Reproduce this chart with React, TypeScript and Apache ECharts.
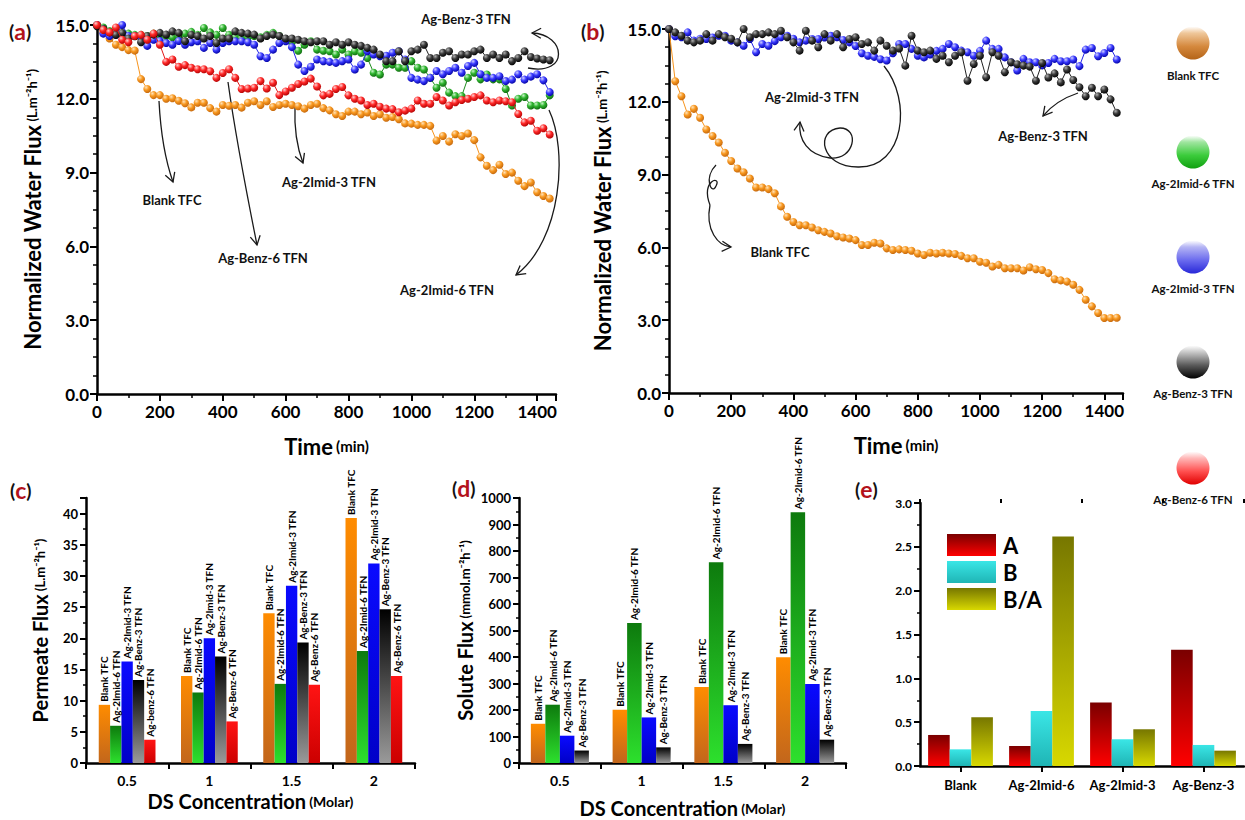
import React, { useEffect, useRef } from "react";
import * as echarts from "echarts";

// ---------- DATA ----------
const TIME = [0, 20, 40, 60, 80, 100, 120, 140, 160, 180, 200, 220, 240, 260, 280, 300, 320, 340, 360, 380, 400, 420, 440, 460, 480, 500, 520, 540, 560, 580, 600, 620, 640, 660, 680, 700, 720, 740, 760, 780, 800, 820, 840, 860, 880, 900, 920, 940, 960, 980, 1000, 1020, 1040, 1060, 1080, 1100, 1120, 1140, 1160, 1180, 1200, 1220, 1240, 1260, 1280, 1300, 1320, 1340, 1360, 1380, 1400, 1420, 1440];

// panel (a)
const BLANK_A = [15.0, 14.7, 14.45, 14.2, 14.1, 13.98, 13.96, 12.8, 12.4, 12.15,
  12.15, 12.0, 12.02, 11.92, 11.82, 11.65, 11.84, 11.84, 11.62, 11.48,
  11.75, 11.72, 11.75, 11.64, 11.84, 11.9, 11.75, 11.9, 11.67, 11.75,
  11.8, 11.75, 11.7, 11.6, 11.75, 11.8, 11.62, 11.53, 11.37, 11.3,
  11.48, 11.48, 11.37, 11.44, 11.3, 11.37, 11.23, 11.26, 11.17, 11.0,
  10.99, 10.94, 10.94, 10.9, 10.3, 10.49, 10.26, 10.56, 10.49, 10.59,
  10.32, 9.62, 9.28, 9.1, 9.32, 8.94, 9.0, 8.67, 8.45, 8.6,
  8.2, 8.05, 7.95];
const IMID6_A = [15.0, 14.9, 14.75, 14.6, 14.55, 14.65, 14.6, 14.6, 14.55, 14.65,
  14.6, 14.55, 14.5, 14.55, 14.65, 14.72, 14.6, 14.88, 14.7, 14.6,
  14.88, 14.6, 14.5, 14.45, 14.5, 14.55, 14.5, 14.6, 14.68, 14.55,
  14.4, 14.3, 13.95, 14.2, 14.34, 14.0, 13.95, 13.93, 13.8, 14.0,
  13.8, 13.93, 13.87, 13.66, 13.06, 12.99, 13.39, 13.39, 13.26, 13.26,
  13.53, 13.26, 13.19, 12.85, 12.45, 12.65, 12.25, 12.11, 12.11, 12.85,
  13.06, 12.79, 12.99, 12.79, 12.79, 12.4, 11.73, 12.0, 12.07, 11.73,
  11.73, 11.75, 12.14];
const IMID3_A = [15.0, 14.65, 14.55, 14.6, 15.0, 14.55, 14.55, 14.5, 14.15, 14.4,
  14.35, 14.27, 14.2, 14.35, 14.2, 14.3, 14.34, 14.07, 14.27, 14.0,
  14.27, 14.34, 14.34, 14.34, 14.3, 14.2, 13.73, 13.66, 14.0, 14.27,
  14.34, 14.1, 13.39, 13.13, 13.3, 13.6, 13.53, 13.5, 13.46, 13.53,
  13.6, 13.19, 13.39, 13.93, 13.8, 13.73, 13.75, 13.87, 13.93, 13.6,
  12.85, 12.78, 12.72, 12.85, 13.13, 13.0, 13.13, 13.26, 13.06, 13.33,
  13.46, 13.0, 12.85, 12.85, 12.92, 12.72, 12.78, 13.0, 12.78, 12.9,
  13.0, 12.75, 12.27];
const BENZ3_A = [14.95, 14.85, 14.7, 14.6, 14.68, 14.45, 14.54, 14.3, 14.55, 14.61,
  14.68, 14.61, 14.74, 14.68, 14.34, 14.6, 14.55, 14.45, 14.55, 14.27,
  14.45, 14.45, 14.74, 14.68, 14.65, 14.61, 14.45, 14.55, 14.61, 14.55,
  14.45, 14.45, 14.4, 14.34, 14.3, 14.34, 14.34, 14.2, 14.3, 14.2,
  14.3, 14.2, 14.15, 14.07, 14.0, 13.8, 13.53, 13.53, 13.93, 13.53,
  13.93, 14.0, 14.2, 13.66, 13.66, 13.87, 13.93, 13.66, 13.8, 13.8,
  13.93, 14.0, 13.66, 13.8, 13.66, 13.8, 13.53, 13.66, 13.93, 13.7,
  13.64, 13.6, 13.57];
const BENZ6_A = [15.0, 14.8, 14.7, 14.9, 14.4, 14.3, 14.55, 14.6, 14.4, 14.65,
  14.2, 13.5, 13.6, 13.3, 13.37, 13.26, 13.2, 13.2, 13.12, 12.85,
  13.05, 13.2, 12.85, 12.4, 12.42, 12.45, 12.72, 12.42, 12.65, 12.15,
  12.3, 12.45, 12.6, 12.7, 12.82, 12.5, 12.14, 12.2, 12.4, 12.48,
  12.14, 12.0, 11.93, 11.75, 11.8, 11.68, 11.6, 11.58, 11.45, 11.52,
  11.6, 11.93, 11.8, 11.8, 12.07, 11.93, 11.73, 11.86, 11.95, 12.0,
  12.07, 12.14, 11.93, 11.86, 11.93, 11.9, 11.86, 11.38, 11.04, 11.11,
  10.7, 10.8, 10.55];

// panel (b)
const BLANK_B = [15.0, 12.85, 12.23, 11.48, 11.71, 11.34, 10.86, 10.59, 10.32, 9.9,
  9.56, 9.25, 9.1, 8.84, 8.47, 8.47, 8.4, 8.23, 7.69, 7.26,
  7.05, 6.91, 6.91, 6.82, 6.71, 6.64, 6.57, 6.46, 6.41, 6.37,
  6.3, 6.1, 6.1, 6.19, 6.16, 5.96, 5.89, 5.92, 5.89, 5.86,
  5.75, 5.69, 5.78, 5.75, 5.78, 5.75, 5.73, 5.65, 5.55, 5.55,
  5.41, 5.37, 5.21, 5.28, 5.14, 5.14, 5.14, 5.05, 5.18, 5.1,
  5.07, 4.94, 4.69, 4.64, 4.59, 4.46, 4.25, 3.84, 3.57, 3.3,
  3.09, 3.09, 3.1];
const IMID3_B = [15.0, 14.7, 14.66, 14.86, 14.52, 14.6, 14.59, 14.65, 14.72, 14.72,
  14.52, 14.45, 14.31, 14.59, 14.04, 14.38, 14.31, 14.5, 14.66, 14.72,
  14.6, 14.45, 14.52, 14.59, 14.59, 14.65, 14.72, 14.66, 14.55, 14.45,
  14.3, 14.0, 13.9, 13.85, 13.75, 13.7, 14.0, 14.38, 14.38, 14.18,
  13.9, 13.83, 13.95, 14.1, 14.18, 14.38, 14.25, 14.11, 14.04, 13.9,
  14.1, 14.52, 14.18, 14.18, 13.83, 13.63, 13.29, 13.77, 13.63, 13.63,
  13.5, 13.6, 13.77, 13.67, 13.67, 13.74, 13.47, 14.15, 14.22, 13.88,
  14.01, 14.22, 13.74];
const BENZ3_B = [15.0, 14.86, 14.72, 14.52, 14.45, 14.52, 14.79, 14.52, 14.79, 14.66,
  14.6, 14.45, 15.0, 14.66, 14.79, 14.79, 14.86, 14.79, 14.93, 14.66,
  14.45, 14.11, 14.93, 14.52, 14.25, 14.79, 14.52, 14.79, 14.25, 14.59,
  14.66, 14.38, 14.45, 14.11, 14.52, 14.31, 14.11, 14.2, 13.49, 14.72,
  14.11, 14.04, 14.11, 13.77, 13.9, 13.63, 13.9, 14.04, 12.87, 13.56,
  13.9, 13.01, 14.04, 13.9, 13.22, 13.63, 13.55, 13.49, 13.45, 12.87,
  13.6, 13.0, 13.17, 12.8, 13.33, 12.9, 12.6, 12.23, 12.58, 12.23,
  12.51, 12.1, 11.55];

// panel (c) permeate flux
const CONC = ["0.5", "1", "1.5", "2"];
const PERM_BLANK = [9.33, 13.97, 24.0, 39.3];
const PERM_IMID6 = [5.97, 11.31, 12.69, 17.97];
const PERM_IMID3 = [16.27, 20.0, 28.43, 32.0];
const PERM_BENZ3 = [13.33, 17.07, 19.31, 24.64];
const PERM_BENZ6 = [3.73, 6.67, 12.53, 13.97];
const BENZ6_TAGS = ["Ag-benz-6 TFN", "Ag-Benz-6 TFN", "Ag-Benz-6 TFN", "Ag-Benz-6 TFN"];

// panel (d) solute flux
const SOL_BLANK = [148, 201, 287, 399];
const SOL_IMID6 = [220, 528, 758, 946];
const SOL_IMID3 = [103, 172, 218, 298];
const SOL_BENZ3 = [47, 59, 72, 88];

// panel (e)
const MEMB = ["Blank", "Ag-2Imid-6", "Ag-2Imid-3", "Ag-Benz-3"];
const PARAM_A = [0.354, 0.228, 0.723, 1.325];
const PARAM_B = [0.19, 0.628, 0.305, 0.24];
const PARAM_BA = [0.556, 2.619, 0.419, 0.175];

// ---------- STYLE ----------
const F = "Lato, 'DejaVu Sans', sans-serif";
const BLACK = "#000";

const ball = (hi: string, c: string, d: string) => ({
  type: "radial", x: 0.35, y: 0.3, r: 0.75,
  colorStops: [{ offset: 0, color: hi }, { offset: 0.45, color: c }, { offset: 1, color: d }],
});
const vgrad = (top: string, bottom: string) => ({
  type: "linear", x: 0, y: 0, x2: 0, y2: 1,
  colorStops: [{ offset: 0, color: top }, { offset: 1, color: bottom }],
});

const COL = {
  orange: { ball: ball("#ffe2b8", "#f8981f", "#c2650c"), line: "#f7941d" },
  green: { ball: ball("#c8f5c8", "#2fb52f", "#0f660f"), line: "#1e8c1e" },
  blue: { ball: ball("#d0d0ff", "#3a3aff", "#0000a0"), line: "#2424e6" },
  black: { ball: ball("#b0b0b0", "#3a3a3a", "#000000"), line: "#222" },
  red: { ball: ball("#ffd0d0", "#ff2a2a", "#b00000"), line: "#e31818" },
};

function lineSeries(name: string, vals: number[], c: any, gi: number, z: number) {
  return {
    type: "line", name, xAxisIndex: gi, yAxisIndex: gi, z,
    data: TIME.map((t, i) => [t, vals[i]]),
    symbol: "circle", symbolSize: 8, showSymbol: true, clip: false,
    lineStyle: { color: c.line, width: 1 },
    itemStyle: { color: c.ball, borderWidth: 0 },
    emphasis: { disabled: true },
  };
}

const barLabel = (fmt: any) => ({
  show: true, position: "top", rotate: 90, align: "left", verticalAlign: "middle",
  distance: 3, fontSize: 10, fontWeight: "bold", fontFamily: F, color: BLACK, formatter: fmt,
});

function barSeries(name: string, vals: number[], color: any, gi: number, tag: any) {
  return {
    type: "bar", name, xAxisIndex: gi, yAxisIndex: gi, data: vals,
    itemStyle: { color }, label: barLabel(tag), emphasis: { disabled: true },
  };
}

const axLine = { show: true, lineStyle: { color: BLACK, width: 2.5 } };
const tick = (len: number) => ({ show: true, length: len, lineStyle: { color: BLACK, width: 2 } });
const minor = (n: number, len: number) => ({ show: true, splitNumber: n, length: len, lineStyle: { color: BLACK, width: 1.5 } });
const lbl = (size: number, extra: any = {}) => ({ fontSize: size, fontWeight: "bold", fontFamily: F, color: BLACK, ...extra });
const richName = (big: number, small: number) => ({
  rich: {
    b: { fontSize: big, fontWeight: "bold", fontFamily: F, color: BLACK },
    s: { fontSize: small, fontWeight: "bold", fontFamily: F, color: BLACK },
  },
});

// arrows
function curve(p: number[], head = true) {
  const [x1, y1, c1x, c1y, c2x, c2y, x2, y2] = p;
  const st = { stroke: "#1a1a1a", lineWidth: 1.3, fill: "none" };
  const out: any[] = [{ type: "bezierCurve", silent: true, shape: { x1, y1, cpx1: c1x, cpy1: c1y, cpx2: c2x, cpy2: c2y, x2, y2 }, style: st }];
  if (head) {
    let dx = x2 - c2x, dy = y2 - c2y;
    const L = Math.hypot(dx, dy) || 1; dx /= L; dy /= L;
    const bx = x2 - dx * 9, by = y2 - dy * 9, px = -dy, py = dx;
    out.push({ type: "polyline", silent: true, shape: { points: [[bx + px * 5, by + py * 5], [x2, y2], [bx - px * 5, by - py * 5]] }, style: st });
  }
  return out;
}
const note = (text: string, x: number, y: number, size = 13) => ({
  type: "text", x, y, silent: true,
  style: { text, fontSize: size, fontWeight: "bold", fontFamily: F, fill: "#111", align: "center", verticalAlign: "middle" },
});
const panelTag = (ch: string, x: number, y: number) => ({
  type: "text", x, y, silent: true,
  style: {
    text: `{p|(}{l|${ch}}{p|)}`, verticalAlign: "middle",
    rich: {
      p: { fontSize: 19, fontWeight: "bold", fontFamily: F, fill: "#111" },
      l: { fontSize: 23, fontWeight: "bold", fontFamily: F, fill: "#b3121b" },
    },
  },
});
const legendBall = (cy: number, stops: string[], text: string, ty: number) => [
  {
    type: "circle", silent: true, shape: { cx: 1193, cy, r: 16.5 },
    style: {
      fill: { type: "linear", x: 0, y: 0, x2: 0, y2: 1, colorStops: [{ offset: 0, color: "#ffffff" }, { offset: 0.2, color: stops[0] }, { offset: 0.6, color: stops[1] }, { offset: 1, color: stops[2] }] },
    },
  },
  note(text, 1193, ty, 11.5),
];

export default function App() {
  const ref = useRef<HTMLDivElement>(null);
  useEffect(() => {
    if (!ref.current) return;
    const chart = echarts.init(ref.current, null, { renderer: "svg" });

    const timeX = (gi: number) => ({
      gridIndex: gi, type: "value", min: 0, max: 1460, interval: 200,
      axisLine: axLine, axisTick: tick(7), minorTick: minor(2, 4), splitLine: { show: false },
      axisLabel: lbl(17, { margin: 9, formatter: (v: number) => (v % 200 === 0 ? String(v) : "") }),
      name: "{b|Time} {s|(min)}", nameLocation: "middle", nameGap: 41, nameTextStyle: richName(22, 15),
    });
    const fluxY = (gi: number, gap: number) => ({
      gridIndex: gi, type: "value", min: 0, max: 15, interval: 3,
      axisLine: axLine, axisTick: tick(7), minorTick: minor(4, 4), splitLine: { show: false },
      axisLabel: lbl(17, { margin: 8, formatter: (v: number) => v.toFixed(1) }),
      name: "{b|Normalized Water Flux} {s|(L.m⁻²h⁻¹)}", nameLocation: "middle", nameRotate: 90, nameGap: gap,
      nameTextStyle: richName(22, 13),
    });
    const concX = (gi: number, gap: number) => ({
      gridIndex: gi, type: "category", data: CONC,
      axisLine: axLine, axisTick: tick(6), splitLine: { show: false },
      axisLabel: lbl(14, { margin: 10, interval: 0 }),
      name: "{b|DS Concentration} {s|(Molar)}", nameLocation: "middle", nameGap: gap, nameTextStyle: richName(20, 14),
    });

    const option: any = {
      animation: false,
      backgroundColor: "#fff",
      textStyle: { fontFamily: F },
      grid: [
        { left: 97, top: 25, width: 459, height: 369 },
        { left: 669, top: 29, width: 454, height: 364 },
        { left: 86, top: 498, width: 329, height: 265 },
        { left: 519, top: 498, width: 327, height: 265 },
        { left: 920, top: 503, width: 324, height: 263 },
      ],
      xAxis: [
        timeX(0),
        timeX(1),
        concX(2, 28),
        concX(3, 35),
        {
          gridIndex: 4, type: "category", data: MEMB,
          axisLine: axLine, axisTick: { ...tick(6), alignWithLabel: true, interval: 0 }, splitLine: { show: false },
          axisLabel: lbl(13, { margin: 12, interval: 0 }),
        },
        {
          gridIndex: 4, type: "category", data: MEMB,
          axisLine: { show: false }, axisTick: { ...tick(4), interval: 0 }, axisLabel: { show: false }, splitLine: { show: false },
        },
      ],
      yAxis: [
        fluxY(0, 54),
        fluxY(1, 56),
        {
          gridIndex: 2, type: "value", min: 0, max: 42.5, interval: 5,
          axisLine: axLine, axisTick: tick(6), minorTick: minor(2, 3), splitLine: { show: false },
          axisLabel: lbl(13, { margin: 8, formatter: (v: number) => (v % 5 === 0 ? String(v) : "") }),
          name: "{b|Permeate Flux} {s|(L.m⁻²h⁻¹)}", nameLocation: "middle", nameRotate: 90, nameGap: 36,
          nameTextStyle: richName(20, 13),
        },
        {
          gridIndex: 3, type: "value", min: 0, max: 1000, interval: 100,
          axisLine: axLine, axisTick: tick(6), minorTick: minor(2, 3), splitLine: { show: false },
          axisLabel: lbl(13, { margin: 8, formatter: (v: number) => String(v) }),
          name: "{b|Solute Flux} {s|(mmol.m⁻²h⁻¹)}", nameLocation: "middle", nameRotate: 90, nameGap: 44,
          nameTextStyle: richName(20, 13),
        },
        {
          gridIndex: 4, type: "value", min: 0, max: 3, interval: 0.5,
          axisLine: axLine, axisTick: tick(6), minorTick: minor(2, 3), splitLine: { show: false },
          axisLabel: lbl(12, { margin: 8, formatter: (v: number) => v.toFixed(1) }),
        },
      ],
      legend: {
        data: ["A", "B", "B/A"], orient: "vertical", left: 942, top: 529,
        itemWidth: 49, itemHeight: 22, itemGap: 5, icon: "rect",
        textStyle: { fontSize: 22, fontWeight: "bold", fontFamily: F, color: BLACK, padding: [0, 0, 0, 2] },
        selectedMode: false,
      },
      series: [
        lineSeries("Blank TFC", BLANK_A, COL.orange, 0, 2),
        lineSeries("Ag-2Imid-6 TFN", IMID6_A, COL.green, 0, 3),
        lineSeries("Ag-2Imid-3 TFN", IMID3_A, COL.blue, 0, 4),
        lineSeries("Ag-Benz-3 TFN", BENZ3_A, COL.black, 0, 5),
        lineSeries("Ag-Benz-6 TFN", BENZ6_A, COL.red, 0, 6),
        lineSeries("Blank TFC", BLANK_B, COL.orange, 1, 2),
        lineSeries("Ag-2Imid-3 TFN", IMID3_B, COL.blue, 1, 3),
        lineSeries("Ag-Benz-3 TFN", BENZ3_B, COL.black, 1, 4),

        { ...barSeries("Blank TFC", PERM_BLANK, vgrad("#ff8c00", "#c2661c"), 2, "Blank TFC"), barGap: "0%", barCategoryGap: "31%" },
        barSeries("Ag-2Imid-6 TFN", PERM_IMID6, vgrad("#0d7a0d", "#2de02d"), 2, "Ag-2Imid-6 TFN"),
        barSeries("Ag-2Imid-3 TFN", PERM_IMID3, vgrad("#0a0aff", "#0000c8"), 2, "Ag-2Imid-3 TFN"),
        barSeries("Ag-Benz-3 TFN", PERM_BENZ3, vgrad("#000000", "#9a9a9a"), 2, "Ag-Benz-3 TFN"),
        barSeries("Ag-Benz-6 TFN", PERM_BENZ6, vgrad("#ff1414", "#cc0000"), 2, (p: any) => BENZ6_TAGS[p.dataIndex]),

        { ...barSeries("Blank TFC", SOL_BLANK, vgrad("#ff8c00", "#c2661c"), 3, "Blank TFC"), barGap: "0%", barCategoryGap: "29%" },
        barSeries("Ag-2Imid-6 TFN", SOL_IMID6, vgrad("#0d7a0d", "#2de02d"), 3, "Ag-2Imid-6 TFN"),
        barSeries("Ag-2Imid-3 TFN", SOL_IMID3, vgrad("#0a0aff", "#0000c8"), 3, "Ag-2Imid-3 TFN"),
        barSeries("Ag-Benz-3 TFN", SOL_BENZ3, vgrad("#000000", "#9a9a9a"), 3, "Ag-Benz-3 TFN"),

        { type: "bar", name: "A", xAxisIndex: 4, yAxisIndex: 4, data: PARAM_A, barGap: "0%", barCategoryGap: "20%", itemStyle: { color: vgrad("#7a0000", "#ff0000") }, emphasis: { disabled: true } },
        { type: "bar", name: "B", xAxisIndex: 4, yAxisIndex: 4, data: PARAM_B, itemStyle: { color: vgrad("#3ae6e6", "#1fb5b5") }, emphasis: { disabled: true } },
        { type: "bar", name: "B/A", xAxisIndex: 4, yAxisIndex: 4, data: PARAM_BA, itemStyle: { color: vgrad("#777700", "#d8d800") }, emphasis: { disabled: true } },
      ],
      graphic: [
        panelTag("a", 9, 31),
        panelTag("b", 581, 31),
        panelTag("c", 10, 490),
        panelTag("d", 452, 488),
        panelTag("e", 855, 489),
        // panel (a) annotations
        note("Ag-Benz-3 TFN", 466, 19),
        ...curve([528, 68, 570, 76, 566, 34, 532, 33]),
        note("Blank TFC", 172, 200),
        ...curve([159, 101, 161, 140, 167, 165, 173, 182]),
        note("Ag-Benz-6 TFN", 263, 258),
        ...curve([228, 82, 236, 140, 250, 210, 257, 245]),
        note("Ag-2Imid-3 TFN", 329, 182),
        ...curve([295, 106, 294, 130, 298, 150, 303, 163]),
        note("Ag-2Imid-6 TFN", 447, 290),
        ...curve([549, 110, 568, 150, 562, 240, 516, 275]),
        // panel (b) annotations
        note("Ag-2Imid-3 TFN", 812, 97),
        ...curve([884, 66, 912, 100, 905, 168, 858, 167], false),
        ...curve([858, 167, 820, 167, 815, 130, 840, 128], false),
        ...curve([840, 128, 860, 128, 855, 160, 830, 158], false),
        ...curve([830, 158, 808, 155, 798, 140, 800, 122]),
        note("Ag-Benz-3 TFN", 1043, 136),
        ...curve([1078, 93, 1066, 97, 1052, 105, 1043, 116]),
        note("Blank TFC", 780, 252),
        ...curve([716, 165, 703, 178, 712, 196, 716, 186], false),
        ...curve([716, 186, 722, 175, 700, 180, 710, 205], false),
        ...curve([710, 205, 705, 230, 718, 246, 731, 247]),
        // side legend
        ...legendBall(43, ["#efc79a", "#d5893e", "#b46418"], "Blank TFC", 75),
        ...legendBall(152, ["#9fe59f", "#3ccc3c", "#10a010"], "Ag-2Imid-6 TFN", 183),
        ...legendBall(257, ["#b4b4f4", "#6a6aee", "#2828d8"], "Ag-2Imid-3 TFN", 288),
        ...legendBall(362, ["#c8c8c8", "#5a5a5a", "#000000"], "Ag-Benz-3 TFN", 393),
        ...legendBall(468, ["#ffb8b8", "#ff5050", "#e00000"], "Ag-Benz-6 TFN", 499),
      ],
    };
    chart.setOption(option);
    return () => chart.dispose();
  }, []);
  return <div ref={ref} style={{ position: "absolute", left: 0, top: 0, width: 1245, height: 820, background: "#fff" }} />;
}
